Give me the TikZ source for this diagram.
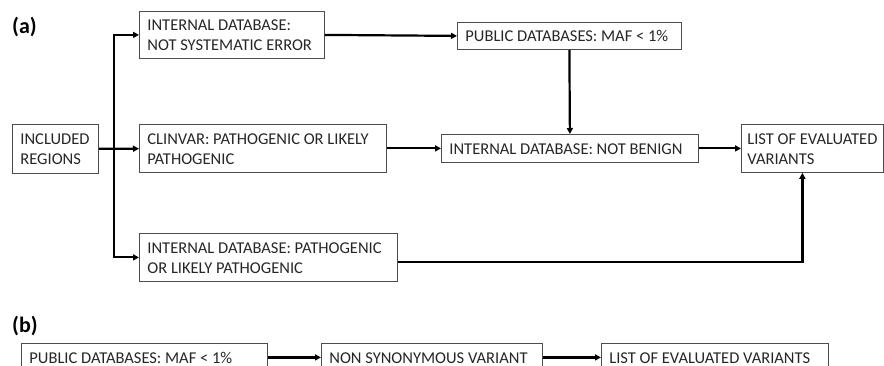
\documentclass[tikz,border=0pt]{standalone}
\usepackage{fontspec}
\setmainfont{Carlito}
\usetikzlibrary{arrows.meta}
\newcommand\bxt[2]{\raisebox{-2pt}[\height][\depth]{\makebox[#1][l]{\begin{tabular}{@{}l@{}}#2\end{tabular}}}}
\begin{document}
\begin{tikzpicture}[x=1pt,y=-1pt,
  box/.style={draw=black!70, line width=0.8pt, rectangle, anchor=north west,
    inner xsep=8pt, inner ysep=0pt, font=\fontsize{16.5}{20}\selectfont,
    text=black!85},
  conn/.style={line width=2.2pt, -{Triangle[length=6pt,width=6pt]}},
  lab/.style={font=\fontsize{22}{24}\selectfont\bfseries, anchor=base west, inner sep=0pt}]
\useasboundingbox (0,0) rectangle (884,366);
\clip (0,0) rectangle (884,366);
% labels
\node[lab] (la) at (12,34) {(a)};
\node[lab] (lb) at (12,332) {(b)};
% (a) boxes
\node[box, minimum height=49pt] (inc) at (12,124) {\bxt{70pt}{INCLUDED\\REGIONS}};
\node[box, minimum height=47pt] (nse) at (139,11) {\bxt{169pt}{INTERNAL DATABASE:\\NOT SYSTEMATIC ERROR}};
\node[box, minimum height=48pt] (clin) at (139,124) {\bxt{231pt}{CLINVAR: PATHOGENIC OR LIKELY\\PATHOGENIC}};
\node[box, minimum height=48pt] (path) at (139,233) {\bxt{242pt}{INTERNAL DATABASE: PATHOGENIC\\OR LIKELY PATHOGENIC}};
\node[box, minimum height=27pt] (pub) at (457,22) {\bxt{208pt}{PUBLIC DATABASES: MAF < 1\%}};
\node[box, minimum height=28pt] (nb) at (441,134) {\bxt{241pt}{INTERNAL DATABASE: NOT BENIGN}};
\node[box, inner xsep=6pt, minimum height=48pt] (list) at (741,124) {\bxt{130pt}{LIST OF EVALUATED\\VARIANTS}};
% (b) boxes
\node[box, minimum height=28pt] (b1) at (21,343) {\bxt{230pt}{PUBLIC DATABASES: MAF < 1\%}};
\node[box, minimum height=28pt] (b2) at (321,343) {\bxt{205pt}{NON SYNONYMOUS VARIANT}};
\node[box, minimum height=28pt] (b3) at (601,343) {\bxt{211pt}{LIST OF EVALUATED VARIANTS}};
% (a) connectors
\coordinate (j) at (114,148);
\draw[conn] (inc) -- (clin);
\draw[conn] (j) |- (nse.west);
\draw[conn] (j) |- (path.west);
\draw[conn] (nse.east) -- (pub.west);
\draw[conn] (pub.south) -- (nb.north);
\draw[conn] (clin.east) -- (nb.west);
\draw[conn] (nb.east) -- (list.west);
\draw[conn] ([yshift=-5pt]path.east) -| ([xshift=-10pt]list.south);
% (b) connectors
\draw[conn] (b1) -- (b2);
\draw[conn] (b2) -- (b3);
\end{tikzpicture}
\end{document}
